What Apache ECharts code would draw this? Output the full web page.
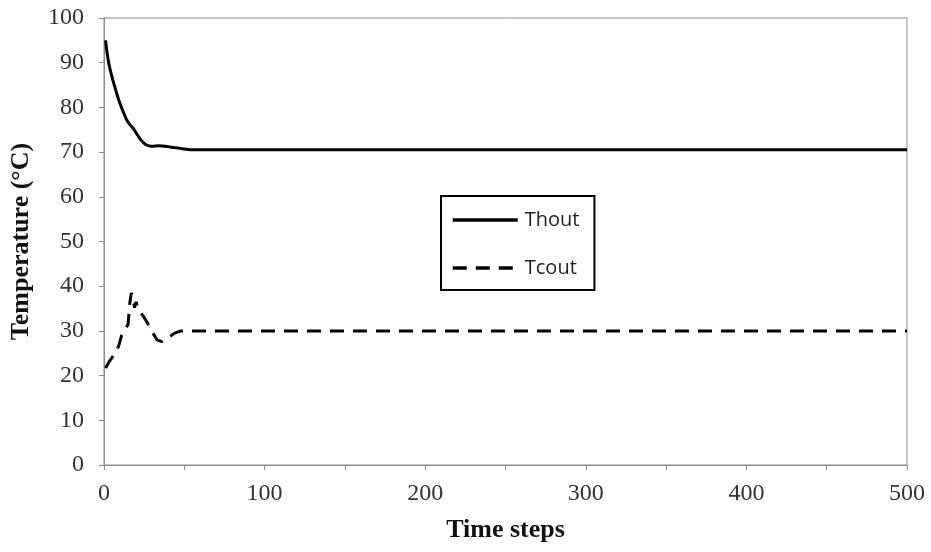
<!DOCTYPE html>
<html>
<head>
<meta charset="utf-8">
<script src="https://cdn.jsdelivr.net/npm/echarts@6/dist/echarts.min.js"></script>
<style>
  html, body { margin: 0; padding: 0; background: #fff; }
  #chart { width: 931px; height: 552px; }
</style>
</head>
<body>
<div id="chart"></div>
<script>
// Hot-side outlet temperature [time step, °C]
const thout = [
  [1, 95], [2, 92], [3, 89.8], [4, 88.2], [5, 86.8], [6, 85.5], [8, 83],
  [10, 80.8], [12, 79], [14, 77.3], [16, 76.2], [18, 75.4], [20, 74.3],
  [22, 73.2], [24, 72.3], [26, 71.7], [28, 71.4], [30, 71.3], [34, 71.4],
  [38, 71.3], [42, 71.1], [46, 70.9], [50, 70.7], [55, 70.5], [60, 70.5],
  [500, 70.5]
];

// Cold-side outlet temperature [time step, °C]
const tcout = [
  [1, 21.7], [3, 23], [6, 24.5], [9, 26.5], [11, 29], [13, 30.2], [15, 31.5],
  [16, 36], [17, 38.5], [18, 37.5], [19, 35.2], [20, 36.5], [21, 35.2],
  [23, 34], [25, 33], [27, 31.8], [30, 29.8], [33, 28], [36, 27.6],
  [40, 28.5], [44, 29.5], [48, 30], [60, 30], [500, 30]
];

const seriesNames = ['Thout', 'Tcout'];
const xTickLabels = [0, 100, 200, 300, 400, 500];
const yTickLabels = [0, 10, 20, 30, 40, 50, 60, 70, 80, 90, 100];

const axisGrey = '#8c8c8c';
const serif = '"Liberation Serif", "Times New Roman", serif';

const chart = echarts.init(document.getElementById('chart'), null, { renderer: 'canvas' });

chart.setOption({
  backgroundColor: '#fff',
  animation: false,
  grid: {
    left: 103, right: 24, top: 18, bottom: 87,
    show: true, borderColor: axisGrey, borderWidth: 1
  },
  legend: {
    data: seriesNames,
    orient: 'vertical',
    left: 441, top: 196,
    padding: [14, 15, 12, 10],
    itemGap: 28,
    itemWidth: 65,
    itemHeight: 14,
    borderColor: '#000',
    borderWidth: 2,
    backgroundColor: '#fff',
    // line samples only, no marker on them
    itemStyle: { color: 'rgba(0,0,0,0)', borderColor: 'rgba(0,0,0,0)', borderWidth: 0, opacity: 0 },
    lineStyle: { width: 3.5, color: '#000' },
    textStyle: {
      fontFamily: '"Open Sans", sans-serif',
      fontSize: 20,
      color: '#222',
      padding: [0, 0, 0, 2]
    }
  },
  xAxis: {
    type: 'value',
    min: 0, max: 500, interval: 50,
    name: 'Time steps',
    nameLocation: 'middle',
    nameGap: 52,
    nameTextStyle: { fontFamily: serif, fontSize: 26, fontWeight: 'bold', color: '#111' },
    axisLine: { show: true, lineStyle: { color: axisGrey, width: 1 } },
    axisTick: { show: true, length: 5, lineStyle: { color: axisGrey } },
    axisLabel: {
      margin: 17,
      fontFamily: serif, fontSize: 24, color: '#333',
      formatter: v => (xTickLabels.indexOf(v) >= 0 ? String(v) : '')
    },
    splitLine: { show: false }
  },
  yAxis: {
    type: 'value',
    min: 0, max: 100, interval: 10,
    name: 'Temperature (°C)',
    nameLocation: 'middle',
    nameGap: 70,
    nameTextStyle: { fontFamily: serif, fontSize: 26, fontWeight: 'bold', color: '#111' },
    axisLine: { show: true, lineStyle: { color: axisGrey, width: 1 } },
    axisTick: { show: true, length: 5, lineStyle: { color: axisGrey } },
    axisLabel: {
      margin: 20,
      fontFamily: serif, fontSize: 24, color: '#333',
      formatter: v => (yTickLabels.indexOf(v) >= 0 ? String(v) : '')
    },
    splitLine: { show: false }
  },
  series: [
    {
      name: seriesNames[0],
      type: 'line',
      data: thout,
      symbol: 'none',
      smooth: 0.3,
      lineStyle: { color: '#000', width: 3 },
      itemStyle: { color: '#000' }
    },
    {
      name: seriesNames[1],
      type: 'line',
      data: tcout,
      symbol: 'none',
      lineStyle: { color: '#000', width: 3, type: [14, 9] },
      itemStyle: { color: '#000' }
    }
  ]
});
</script>
</body>
</html>
